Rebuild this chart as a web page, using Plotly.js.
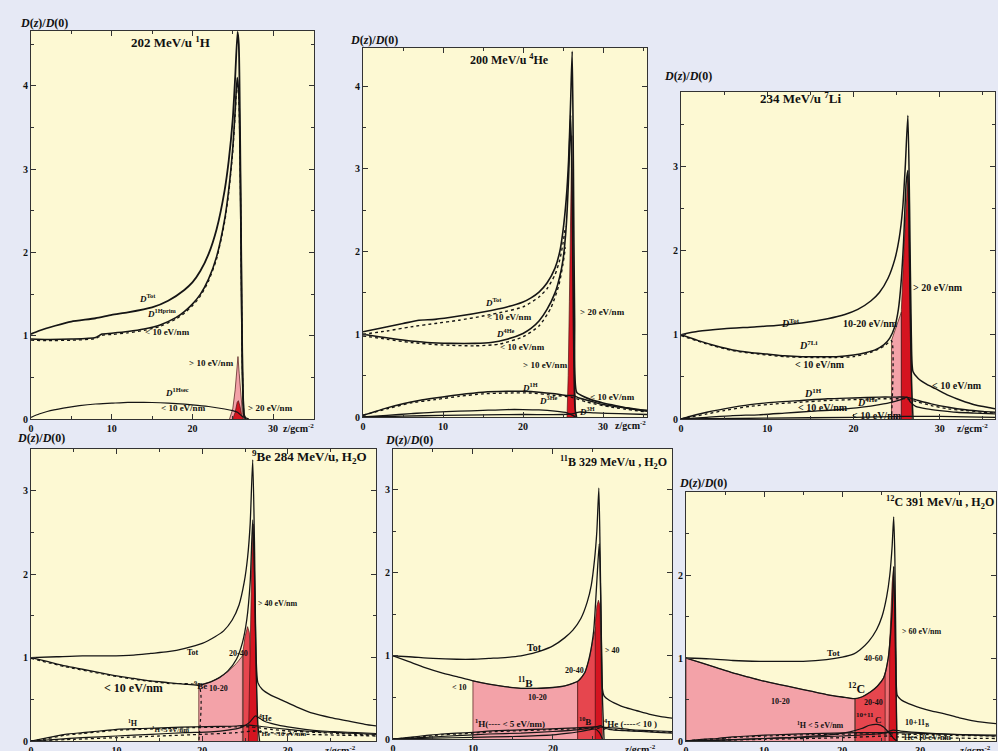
<!DOCTYPE html>
<html><head><meta charset="utf-8">
<script src="https://cdn.plot.ly/plotly-3.0.1.min.js"></script>
<style>html,body{margin:0;padding:0;background:#e6e9f5;}#c{width:998px;height:751px;}</style>
</head><body><div id="c"></div>
<script>
// ---------------- DATA ----------------
// Panel 1: 202 MeV/u 1H
const p1TotZ = [0,1,3,5,8,10,12,15,17,19,20,21,22,23,24,24.5,25,25.3,25.6,25.75,25.9,26.05,26.2,26.4,26.6];
const p1TotD = [1.02,1.06,1.12,1.17,1.21,1.25,1.28,1.34,1.42,1.55,1.64,1.78,1.98,2.28,2.75,3.1,3.6,4.1,4.65,4.5,3.5,2.0,0.6,0.05,0];
const p1PrimZ = [0,2,5,8,8.8,10,12,14,16,18,19,20,21,22,23,24,24.5,25,25.3,25.55,25.75,25.9,26.05,26.2,26.4,26.6];
const p1PrimD = [0.96,0.955,0.96,0.98,1.02,1.03,1.05,1.08,1.13,1.22,1.29,1.38,1.5,1.68,1.95,2.4,2.75,3.25,3.7,4.1,3.9,3.2,1.9,0.6,0.05,0];
const p1SecZ = [0,1,2,4,6,8,10,12,14,16,18,20,22,24,25,25.6,26.2,27];
const p1SecD = [0.02,0.06,0.09,0.13,0.16,0.18,0.19,0.2,0.2,0.195,0.185,0.17,0.15,0.12,0.1,0.08,0.03,0];
const p1Gt10Z = [24.6,25.0,25.3,25.55,25.65,25.8,26.0,26.2,26.4];
const p1Gt10D = [0,0.12,0.35,0.72,0.75,0.55,0.25,0.08,0];
const p1Gt20Z = [25.0,25.3,25.55,25.7,25.9,26.1,26.3];
const p1Gt20D = [0,0.08,0.2,0.22,0.15,0.05,0];

// Panel 2: 200 MeV/u 4He
const p2TotZ = [0,2,5,7,9,12,15,18,20,21,22,23,24,24.6,25,25.4,25.7,25.95,26.15,26.3,26.45,26.7,27.5,28.5,30,31.5,33,34.5,35.5];
const p2TotD = [1.03,1.07,1.13,1.17,1.18,1.22,1.27,1.33,1.39,1.44,1.51,1.62,1.8,2.0,2.25,2.63,3.1,3.8,4.42,3.0,1.2,0.3,0.25,0.21,0.17,0.14,0.11,0.09,0.08];
const p2TotLoZ = [0,3,6,9,12,15,18,20,22,23,24,24.6,25,25.3];
const p2TotLoD = [1.0,1.04,1.09,1.13,1.17,1.22,1.28,1.33,1.45,1.55,1.72,1.9,2.1,2.3];
const p2HeZ = [0,2,5,8,11,14,16,18,20,21,22,23,24,24.6,25,25.4,25.7,25.95,26.1,26.3,26.5,26.7];
const p2HeD = [1.0,0.97,0.93,0.9,0.89,0.89,0.9,0.94,1.01,1.07,1.16,1.3,1.5,1.7,1.9,2.3,2.9,3.65,3.0,1.2,0.1,0];
const p2HeLoZ = [0,3,6,10,14,17,20,22,23.5,24.5,25,25.3];
const p2HeLoD = [0.98,0.94,0.9,0.87,0.86,0.88,0.97,1.1,1.32,1.6,1.85,2.05];
const p2H1Z = [0,1,3,5,7,9,12,15,18,20,22,24,25.5,26.3,27,28.5,30,32,34,35.5];
const p2H1D = [0.02,0.05,0.11,0.16,0.2,0.23,0.27,0.3,0.31,0.31,0.3,0.28,0.26,0.26,0.23,0.19,0.15,0.12,0.09,0.07];
const p2H1LoZ = [0,3,6,9,12,15,18,21,24,26,28,31,35.5];
const p2H1LoD = [0.02,0.1,0.17,0.21,0.25,0.28,0.29,0.29,0.26,0.24,0.18,0.12,0.06];
const p2He3Z = [0,3,6,9,12,15,18,20,22,24,25.5,26.2,26.6];
const p2He3D = [0,0.02,0.04,0.06,0.07,0.08,0.09,0.09,0.085,0.07,0.05,0.02,0];
const p2H3Z = [0,5,10,15,20,25,26.3,27,29,32,35.5];
const p2H3D = [0,0.01,0.02,0.025,0.03,0.03,0.04,0.06,0.05,0.04,0.03];
const p2Gt20Z = [25.5,25.65,25.8,25.95,26.1,26.25,26.4,26.6];
const p2Gt20D = [0,0.5,1.4,2.6,3.4,2.2,0.7,0];

// Panel 3: 234 MeV/u 7Li
const p3TotZ = [0,2,5,8,11,14,17,19,20.5,22,23,24,24.8,25.3,25.7,26.0,26.3,26.5,26.7,26.9,27.5,28.5,29.5,31,32.5,34,35.5,36.4];
const p3TotD = [1.0,1.04,1.07,1.09,1.11,1.14,1.19,1.24,1.3,1.4,1.5,1.67,1.9,2.15,2.5,3.0,3.6,2.5,1.0,0.56,0.48,0.41,0.36,0.28,0.22,0.17,0.14,0.12];
const p3LiZ = [0,2,4,6,8,10,12,14,16,18,20,21.5,22.5,23.5,24.2,24.8,25.2,25.5,25.8,26.1,26.3,26.5,26.7,26.9];
const p3LiD = [1.0,0.93,0.87,0.82,0.79,0.77,0.75,0.74,0.74,0.74,0.76,0.79,0.82,0.88,0.96,1.1,1.3,1.6,2.1,2.8,2.95,1.8,0.5,0];
const p3LiLoZ = [0,3,6,9,12,15,18,20,22,23.5,24.4,24.4];
const p3LiLoD = [0.99,0.89,0.81,0.77,0.74,0.73,0.73,0.74,0.79,0.86,0.93,0];
const p3P1020Z = [24.4,24.4,24.8,25.2,25.55,25.55];
const p3P1020D = [0,0.93,1.05,1.17,1.27,0];
const p3Gt20Z = [25.55,25.55,25.8,26.1,26.3,26.5,26.75,26.75];
const p3Gt20D = [0,1.3,1.9,2.6,2.9,1.8,0.5,0];
const p3H1Z = [0,1,3,5,8,11,14,17,20,23,25,26,26.5,27.5,29,31,33,35,36.4];
const p3H1D = [0,0.03,0.08,0.12,0.17,0.2,0.22,0.24,0.25,0.26,0.26,0.26,0.25,0.22,0.18,0.14,0.11,0.09,0.08];
const p3H1LoD = [0,0.02,0.06,0.1,0.15,0.18,0.2,0.22,0.23,0.24,0.24,0.24,0.23,0.2,0.16,0.12,0.1,0.08,0.07];
const p3He4Z = [0,3,6,9,12,15,18,21,23,24.5,25.5,26.2,26.6,27.2,28.5,30,32,34,36.4];
const p3He4D = [0,0.02,0.04,0.05,0.07,0.09,0.11,0.14,0.17,0.2,0.23,0.26,0.2,0.15,0.12,0.1,0.08,0.07,0.06];
const p3LowZ = [0,10,20,26,30,36.4];
const p3LowD = [0,0.01,0.02,0.03,0.03,0.02];

// Panel 4: 9Be 284 MeV/u
const p4TotZ = [0,3,6,9,12,14,16,18,20,21.5,22.5,23.5,24.3,24.9,25.3,25.6,25.9,26.1,26.3,26.5,27,28,29.3,31,33,35,37,39,40.3];
const p4TotD = [1.0,1.01,1.02,1.02,1.03,1.05,1.07,1.11,1.17,1.25,1.32,1.45,1.63,1.9,2.2,2.6,3.37,2.4,1.0,0.7,0.62,0.55,0.49,0.41,0.33,0.28,0.24,0.2,0.18];
const p4BeZ = [0,2,4,6,8,10,12,14,16,18,19.6,21,22,23,24,24.7,25.2,25.6,25.9,26.1,26.3,26.5,26.7];
const p4BeD = [1.0,0.95,0.9,0.86,0.82,0.78,0.75,0.72,0.7,0.68,0.67,0.71,0.76,0.84,0.98,1.18,1.45,1.9,2.65,2.0,0.9,0.2,0];
const p4BeLoZ = [0,4,8,12,16,19.6,19.6];
const p4BeLoD = [0.99,0.89,0.81,0.74,0.69,0.66,0];
const p4P1020Z = [19.6,19.6,21,22,23,24,24.7,24.7];
const p4P1020D = [0,0.67,0.71,0.76,0.83,0.93,1.02,0];
const p4P2040Z = [24.8,24.8,25.0,25.3,25.5,25.7,26.2,26.4];
const p4P2040D = [0,1.1,1.25,1.37,1.3,0.9,0.3,0];
const p4Gt40Z = [25.4,25.6,25.8,25.95,26.1,26.3,26.5];
const p4Gt40D = [0,1.2,2.2,2.6,2.0,0.8,0];
const p4H1Z = [0,2,4,6,8,10,13,16,19,22,24,25.5,26.5,28,30,32,34,36,38,40.3];
const p4H1D = [0,0.04,0.08,0.1,0.12,0.14,0.15,0.16,0.17,0.175,0.18,0.19,0.18,0.16,0.14,0.12,0.11,0.1,0.09,0.08];
const p4H1LoD = [0,0.03,0.07,0.09,0.11,0.13,0.14,0.15,0.16,0.165,0.17,0.17,0.16,0.14,0.12,0.11,0.1,0.09,0.08,0.07];
const p4He4Z = [0,3,6,10,14,18,21,23,24.5,25.5,26.2,26.6,27.2,28.5,30,32,34,36,38,40.3];
const p4He4D = [0,0.02,0.04,0.06,0.08,0.1,0.11,0.13,0.16,0.22,0.3,0.28,0.24,0.2,0.17,0.14,0.12,0.11,0.1,0.09];
const p4He4LoZ = [0,5,10,15,20,24,26,28,32,36,40.3];
const p4He4LoD = [0,0.02,0.04,0.06,0.08,0.1,0.12,0.1,0.08,0.07,0.06];

// Panel 5: 11B 329 MeV/u
const p5TotZ = [0,2,5,8,10,12,14,16,17,18.5,20,21.5,22.5,23.5,24.3,24.8,25.2,25.5,25.75,25.9,26.05,26.2,26.4,27,28,29,30.5,32,33.5,34.9];
const p5TotD = [1.0,0.99,0.97,0.96,0.96,0.97,0.98,1.0,1.02,1.06,1.12,1.22,1.31,1.45,1.65,1.85,2.15,2.5,3.02,2.3,1.3,0.6,0.52,0.47,0.42,0.38,0.34,0.3,0.27,0.25];
const p5BZ = [0,2,4,6,8,10,12,14,16,18,20,21.5,22.5,23.2,24,24.6,25.1,25.5,25.8,26.0,26.2,26.4];
const p5BD = [1.0,0.93,0.86,0.8,0.75,0.7,0.66,0.63,0.61,0.61,0.62,0.64,0.67,0.7,0.8,1.0,1.3,1.9,2.35,1.6,0.5,0];
const p5P1020Z = [10,10,12,14,16,18,20,21.5,22.5,23.1,23.1];
const p5P1020D = [0,0.7,0.66,0.63,0.61,0.61,0.62,0.64,0.67,0.69,0];
const p5P2040Z = [23.1,23.1,24,24.6,25.0,25.4,25.4];
const p5P2040D = [0,0.69,0.8,0.98,1.2,1.35,0];
const p5Gt40Z = [25.3,25.3,25.5,25.7,25.9,26.1,26.2];
const p5Gt40D = [0,1.4,1.6,1.67,1.6,0.6,0];
const p5H1Z = [0,2,4,6,8,10,13,16,19,22,24,25.5,26.5,28,30,32,34.9];
const p5H1D = [0,0.02,0.04,0.06,0.07,0.08,0.1,0.11,0.12,0.13,0.14,0.145,0.14,0.13,0.11,0.1,0.09];
const p5H1LoD = [0,0.015,0.03,0.05,0.06,0.07,0.09,0.1,0.11,0.12,0.125,0.13,0.12,0.11,0.1,0.09,0.08];
const p5He4Z = [0,4,8,12,16,20,23,24.5,25.5,26,26.5,27.5,29,31,33,34.9];
const p5He4D = [0,0.02,0.04,0.06,0.07,0.09,0.11,0.13,0.15,0.16,0.13,0.11,0.1,0.09,0.08,0.07];
const p5B10Z = [0,5,10,15,20,22,23.5,24.5,25.3,25.8,26.2];
const p5B10D = [0,0.01,0.02,0.03,0.05,0.07,0.09,0.11,0.12,0.08,0];

// Panel 6: 12C 391 MeV/u
const p6TotZ = [0,3,6,9.5,12,15,18,20,21.5,22.3,23.4,24.4,25.1,25.7,26.1,26.4,26.6,26.75,26.9,27.05,27.5,28.5,30,31.5,33,35,37,39.7];
const p6TotD = [1.0,0.99,0.97,0.96,0.96,0.96,0.98,1.01,1.05,1.1,1.2,1.34,1.5,1.74,2.0,2.35,2.7,2.2,1.0,0.55,0.5,0.45,0.4,0.36,0.33,0.28,0.24,0.21];
const p6CZ = [0,2,4,6,8,10,12,14,16,18,20,21.5,22.5,23.6,24.5,25.3,25.9,26.4,26.6,26.8,27.0];
const p6CD = [1.0,0.94,0.88,0.82,0.77,0.72,0.68,0.64,0.6,0.56,0.53,0.51,0.53,0.59,0.66,0.76,1.0,1.58,2.1,1.2,0];
const p6P1020Z = [0,0,2,4,6,8,10,12,14,16,18,20,21.6,21.6];
const p6P1020D = [0,1.0,0.94,0.88,0.82,0.77,0.72,0.68,0.64,0.6,0.56,0.53,0.51,0];
const p6P2040Z = [21.7,21.7,22.5,23.6,24.5,25.3,25.6,25.6];
const p6P2040D = [0,0.51,0.53,0.59,0.66,0.76,0.85,0];
const p6P4060Z = [25.5,25.5,25.9,26.2,26.2];
const p6P4060D = [0,0.8,1.0,1.3,0];
const p6Gt60Z = [26.0,26.1,26.4,26.6,26.8,27.0,27.05];
const p6Gt60D = [0,1.2,1.9,2.1,1.3,0.2,0];
const p6H1Z = [0,2,4,6,8,10,13,16,19,22,25,27,29,31,34,37,39.7];
const p6H1D = [0,0.02,0.03,0.05,0.06,0.07,0.08,0.09,0.095,0.1,0.1,0.1,0.095,0.09,0.08,0.075,0.07];
const p6CfZ = [0,5,10,15,19,21,22.5,23.5,24.5,25.3,26,26.6,27];
const p6CfD = [0,0.01,0.03,0.05,0.08,0.11,0.15,0.19,0.2,0.17,0.1,0.03,0];
const p6BZ = [0,10,20,25,26.5,27.5,30,34,39.7];
const p6BD = [0,0.03,0.06,0.09,0.13,0.12,0.1,0.08,0.06];
const p6HeZ = [0,10,20,26,27,30,39.7];
const p6HeD = [0,0.02,0.04,0.06,0.05,0.04,0.03];

// ---------------- LAYOUT HELPERS ----------------
const PW = 998, PH = 751;
const PINK = '#f3a2a8', MRED = '#e6464e', DRED = '#d51420';
const SERIF = 'Liberation Serif, Times New Roman, serif';
const panels = [
  {x:[31,314],  y:[31,419],  xr:35.07, yr:4.66, yt:[0,1,2,3,4]},
  {x:[363,647], y:[48,417],  xr:35.5,  yr:4.46, yt:[0,1,2,3,4]},
  {x:[681,995], y:[92,419],  xr:36.4,  yr:3.88, yt:[0,1,2,3]},
  {x:[31,376],  y:[449,741], xr:40.3,  yr:3.5,  yt:[0,1,2,3]},
  {x:[393,672], y:[449,739], xr:34.9,  yr:3.49, yt:[0,1,2,3]},
  {x:[686,996], y:[492,741], xr:39.7,  yr:3.0,  yt:[0,1,2]}
];
const xTickVals = [[0,10,20,30],[0,10,20,30],[0,10,20,30],[0,10,20,30],[0,10,20],[0,10,20,30]];

function sfx(k){return k===1?'':String(k);}
function ln(k,z,d,dash,w){
  return {x:z,y:d,xaxis:'x'+sfx(k),yaxis:'y'+sfx(k),mode:'lines',hoverinfo:'skip',showlegend:false,
    line:{color:'#151515',width:w||1.4,dash:dash||'solid',shape:'spline',smoothing:0.6}};
}
function fl(k,z,d,color){
  return {x:z,y:d,xaxis:'x'+sfx(k),yaxis:'y'+sfx(k),mode:'lines',fill:'tozeroy',fillcolor:color,
    hoverinfo:'skip',showlegend:false,line:{color:'#4a1515',width:0.7}};
}

const traces = [
  // panel 1
  fl(1,p1Gt10Z,p1Gt10D,PINK), fl(1,p1Gt20Z,p1Gt20D,DRED),
  ln(1,p1TotZ,p1TotD,'solid',1.8), ln(1,p1PrimZ,p1PrimD,'solid',1.6), ln(1,p1PrimZ,p1PrimD.map(v=>v*0.985),'dot',1.2),
  ln(1,p1SecZ,p1SecD,'solid',1.2),
  // panel 2
  fl(2,p2Gt20Z,p2Gt20D,DRED),
  ln(2,p2TotZ,p2TotD,'solid',1.6), ln(2,p2TotLoZ,p2TotLoD,'dot',1.4),
  ln(2,p2HeZ,p2HeD,'solid',1.6), ln(2,p2HeLoZ,p2HeLoD,'dot',1.4),
  ln(2,p2H1Z,p2H1D,'solid',1.5), ln(2,p2H1LoZ,p2H1LoD,'dot',1.4),
  ln(2,p2He3Z,p2He3D,'solid',1.3), ln(2,p2H3Z,p2H3D,'solid',1.3),
  // panel 3
  fl(3,p3P1020Z,p3P1020D,PINK), fl(3,p3Gt20Z,p3Gt20D,DRED),
  ln(3,p3TotZ,p3TotD,'solid',1.5), ln(3,p3LiZ,p3LiD,'solid',1.5), ln(3,p3LiLoZ,p3LiLoD,'dot',1.3),
  ln(3,p3H1Z,p3H1D,'solid',1.4), ln(3,p3H1Z,p3H1LoD,'dot',1.3),
  ln(3,p3He4Z,p3He4D,'solid',1.3), ln(3,p3LowZ,p3LowD,'solid',1.3),
  // panel 4
  fl(4,p4P1020Z,p4P1020D,PINK), fl(4,p4P2040Z,p4P2040D,MRED), fl(4,p4Gt40Z,p4Gt40D,DRED),
  ln(4,p4TotZ,p4TotD,'solid',1.3), ln(4,p4BeZ,p4BeD,'solid',1.3), ln(4,p4BeLoZ,p4BeLoD,'dot',1.2),
  ln(4,p4H1Z,p4H1D,'solid',1.2), ln(4,p4H1Z,p4H1LoD,'dot',1.3),
  ln(4,p4He4Z,p4He4D,'solid',1.2), ln(4,p4He4LoZ,p4He4LoD,'dot',1.3),
  // panel 5
  fl(5,p5P1020Z,p5P1020D,PINK), fl(5,p5P2040Z,p5P2040D,MRED), fl(5,p5Gt40Z,p5Gt40D,DRED),
  ln(5,p5TotZ,p5TotD,'solid',1.3), ln(5,p5BZ,p5BD,'solid',1.3),
  ln(5,p5H1Z,p5H1D,'solid',1.2), ln(5,p5H1Z,p5H1LoD,'dot',1.3),
  ln(5,p5He4Z,p5He4D,'solid',1.2), ln(5,p5B10Z,p5B10D,'solid',1.2),
  // panel 6
  fl(6,p6P1020Z,p6P1020D,PINK), fl(6,p6P2040Z,p6P2040D,MRED), fl(6,p6P4060Z,p6P4060D,'#ee6e74'), fl(6,p6Gt60Z,p6Gt60D,DRED),
  ln(6,p6TotZ,p6TotD,'solid',1.3), ln(6,p6CZ,p6CD,'solid',1.3),
  ln(6,p6H1Z,p6H1D,'solid',1.2), ln(6,p6H1Z,p6H1D.map(v=>v*0.85),'dot',1.3),
  ln(6,p6CfZ,p6CfD,'solid',1.2), ln(6,p6BZ,p6BD,'solid',1.2), ln(6,p6HeZ,p6HeD,'dot',1.3)
];

const layout = {
  width:PW, height:PH, margin:{l:0,r:0,t:0,b:0},
  paper_bgcolor:'#e6e9f5', plot_bgcolor:'#fdf9d3', showlegend:false,
  font:{family:SERIF,color:'#111'}, annotations:[]
};
panels.forEach((p,i)=>{
  const k=i+1, s=sfx(k);
  layout['xaxis'+s] = {domain:[p.x[0]/PW,p.x[1]/PW], range:[0,p.xr], anchor:'y'+s,
    showline:true, linecolor:'#333', linewidth:1, mirror:'ticks', ticks:'inside', ticklen:5, tickcolor:'#333',
    tickvals:xTickVals[i], showgrid:false, zeroline:false, fixedrange:true,
    minor:{tickvals:[5,15,25,35], ticks:'inside', ticklen:3, tickcolor:'#333'},
    tickfont:{family:SERIF,size:10,weight:'bold',color:'#111'}};
  layout['yaxis'+s] = {domain:[1-p.y[1]/PH,1-p.y[0]/PH], range:[0,p.yr], anchor:'x'+s,
    showline:true, linecolor:'#333', linewidth:1, mirror:'ticks', ticks:'inside', ticklen:5, tickcolor:'#333',
    tickvals:p.yt, showgrid:false, zeroline:false, fixedrange:true,
    minor:{dtick:0.5, ticks:'inside', ticklen:3, tickcolor:'#333'},
    tickfont:{family:SERIF,size:10,weight:'bold',color:'#111'}};
});

function A(text,x,y,size,opt){
  opt=opt||{};
  layout.annotations.push({text:text, x:x/PW, y:1-y/PH, xref:'paper', yref:'paper', showarrow:false,
    xanchor:opt.xa||'center', yanchor:'middle',
    font:{family:SERIF,size:size,color:'#111',weight:'bold'}});
}
// axis titles
const DT = '<i>D</i>(<i>z</i>)/<i>D</i>(0)';
[[44,23],[374,40],[688,76],[41,438],[409,440],[703,483]].forEach(q=>A(DT,q[0],q[1],12));
// x unit labels
const ZU = '<i>z</i>/gcm<sup>-2</sup>';
A('z/gcm<sup>-2</sup>',298,428,10); A('z/gcm<sup>-2</sup>',630,425,10); A('z/gcm<sup>-2</sup>',972,428,10);
A(ZU,340,750,10); A(ZU,640,749,10); A(ZU,975,750,10);
// panel titles
A('202 MeV/u <sup>1</sup>H',170,42,13);
A('200 MeV/u <sup>4</sup>He',510,60,12);
A('234 MeV/u <sup>7</sup>Li',800,98,13);
A('<sup>9</sup>Be 284 MeV/u, H<sub>2</sub>O',369,457,13,{xa:'right'});
A('<sup>11</sup>B 329 MeV/u , H<sub>2</sub>O',669,462,12,{xa:'right'});
A('<sup>12</sup>C 391 MeV/u , H<sub>2</sub>O',996,502,12,{xa:'right'});
// panel 1 labels
A('<i>D</i><sup>Tot</sup>',147,298,9); A('<i>D</i><sup>1Hprim</sup>',162,313,9);
A('< 10 eV/nm',167,332,9); A('> 10 eV/nm',211,363,9);
A('<i>D</i><sup>1Hsec</sup>',177,392,9); A('< 10 eV/nm',183,408,9); A('> 20 eV/nm',270,408,9);
// panel 2 labels
A('<i>D</i><sup>Tot</sup>',493,302,9); A('< 10 eV/nm',510,317,9);
A('<i>D</i><sup>4He</sup>',505,333,9); A('< 10 eV/nm',522,347,9);
A('> 10 eV/nm',545,365,9); A('> 20 eV/nm',602,312,9);
A('<i>D</i><sup>1H</sup>',530,387,9); A('< 10 eV/nm',612,397,9);
A('<i>D</i><sup>3He</sup>',548,400,9); A('<i>D</i><sup>3H</sup>',587,411,9);
// panel 3 labels
A('<i>D</i><sup>Tot</sup>',790,323,10); A('10-20 eV/nm',870,323,10);
A('<i>D</i><sup>7Li</sup>',808,345,10); A('< 10 eV/nm',820,364,10);
A('> 20 eV/nm',938,287,10); A('< 10 eV/nm',957,385,10);
A('<i>D</i><sup>1H</sup>',813,393,10); A('< 10 eV/nm',823,407,10);
A('<i>D</i><sup>4He</sup>',867,402,10); A('< 10 eV/nm',877,416,10);
// panel 4 labels
A('Tot',193,652,8); A('20-40',238,653,8); A('> 40 eV/nm',278,603,8);
A('<sup>9</sup>Be',200,685,9); A('< 10 eV/nm',133,688,12); A('10-20',218,688,8);
A('<sup>1</sup>H',133,723,8); A('<sup>1</sup>H<5 eV/nm',170,729,7);
A('<sup>4</sup>He',265,718,8); A('<sup>4</sup>He  <10 eV/nm',282,733,7);
// panel 5 labels
A('Tot',534,647,10); A('> 40',612,650,8); A('20-40',574,670,8);
A('<sup>11</sup>B',525,682,11); A('< 10',459,687,8); A('10-20',537,697,8);
A('<sup>1</sup>H(---- < 5 eV/nm)',510,723,9); A('<sup>10</sup>B',585,721,9); A('<sup>4</sup>He (----< 10 )',630,723,9);
// panel 6 labels
A('Tot',833,653,9); A('40-60',873,658,8); A('> 60 eV/nm',922,631,8);
A('<sup>12</sup>C',856,688,12); A('10-20',780,701,8); A('20-40',873,702,8);
A('10+11',865,715,7); A('C',878,720,9); A('<sup>1</sup>H < 5 eV/nm',820,725,8);
A('10+11<sub>B</sub>',917,723,8); A('He<10 eV/nm',927,737,8);

Plotly.newPlot('c', traces, layout, {displayModeBar:false, staticPlot:true});
</script></body></html>
